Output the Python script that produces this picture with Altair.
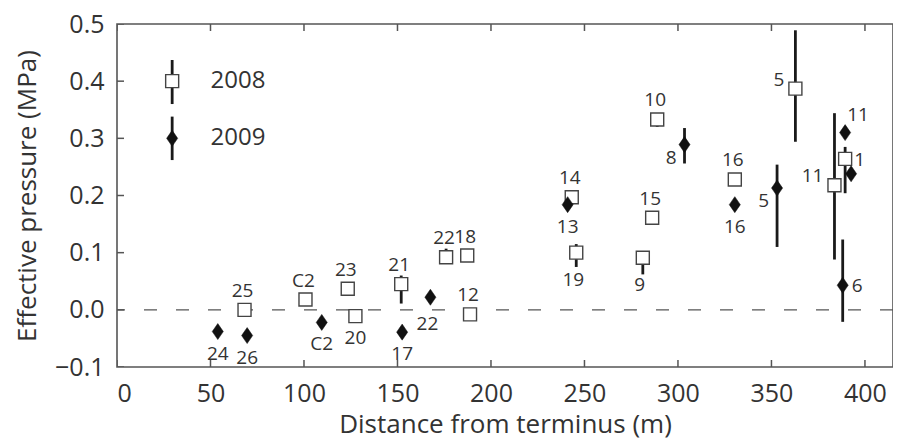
import altair as alt
import pandas as pd

# ---------------- data ----------------
# 2008 campaign (open squares)
labels_2008 = ["25", "C2", "23", "20", "21", "22", "18", "12", "14", "19", "15", "9", "10", "16", "5", "11", "1"]
dist_2008 = [68.2, 100.8, 123.4, 127.5, 152.0, 176.0, 187.3, 188.8, 243.2, 245.6, 286.2, 281.2, 288.9, 330.4, 362.8, 383.7, 389.4]
pe_2008 = [0.000, 0.018, 0.037, -0.011, 0.045, 0.092, 0.095, -0.008, 0.197, 0.100, 0.161, 0.091, 0.333, 0.228, 0.387, 0.218, 0.264]
lo_2008 = [0.000, 0.018, 0.037, -0.011, 0.011, 0.092, 0.095, -0.008, 0.197, 0.075, 0.161, 0.062, 0.320, 0.228, 0.294, 0.088, 0.204]
hi_2008 = [0.000, 0.018, 0.037, -0.011, 0.060, 0.107, 0.095, -0.008, 0.197, 0.115, 0.161, 0.100, 0.340, 0.228, 0.489, 0.344, 0.285]
side_2008 = ["above", "above", "above", "below", "above", "above", "above", "above", "above", "below2",
             "above", "below2", "above", "above", "left", "left", "right"]

# 2009 campaign (filled diamonds)
labels_2009 = ["24", "26", "C2", "17", "22", "13", "8", "16", "5", "11", "", "6"]
dist_2009 = [53.9, 69.6, 109.5, 152.5, 167.6, 241.0, 303.5, 330.4, 353.0, 389.4, 392.6, 388.1]
pe_2009 = [-0.038, -0.045, -0.022, -0.039, 0.022, 0.184, 0.289, 0.184, 0.213, 0.310, 0.238, 0.043]
lo_2009 = [-0.038, -0.045, -0.022, -0.039, 0.022, 0.184, 0.256, 0.184, 0.110, 0.310, 0.238, -0.021]
hi_2009 = [-0.038, -0.045, -0.022, -0.039, 0.022, 0.184, 0.318, 0.184, 0.254, 0.310, 0.238, 0.123]
side_2009 = ["below", "below", "below", "below", "below2", "below", "belowleft", "below",
             "belowleft", "aboveright", "right", "right"]

# legend entries (drawn inside the axes, as in the original)
legend_years = ["2008", "2009"]
legend_dist = [29.5, 29.5]
legend_pe = [0.400, 0.300]
legend_lo = [0.360, 0.262]
legend_hi = [0.437, 0.338]
legend_text_dist = [50.0, 50.0]

x_ticks = [0, 50, 100, 150, 200, 250, 300, 350, 400]
y_ticks = [-0.1, 0.0, 0.1, 0.2, 0.3, 0.4, 0.5]
zero_level = [0.0]

# ---------------- tables ----------------
d08 = pd.DataFrame({"label": labels_2008, "dist": dist_2008, "pe": pe_2008,
                    "lo": lo_2008, "hi": hi_2008, "side": side_2008})
d09 = pd.DataFrame({"label": labels_2009, "dist": dist_2009, "pe": pe_2009,
                    "lo": lo_2009, "hi": hi_2009, "side": side_2009})
dleg = pd.DataFrame({"year": legend_years, "dist": legend_dist, "pe": legend_pe,
                     "lo": legend_lo, "hi": legend_hi, "tdist": legend_text_dist})
dzero = pd.DataFrame({"pe": zero_level})
# tick positions along the plot edges (edges = ends of the axis ranges)
dytick = pd.DataFrame({"v": y_ticks, "edge": [x_ticks[0]] * len(y_ticks)})
dxtick = pd.DataFrame({"v": x_ticks, "ylow": [y_ticks[0]] * len(x_ticks), "yhigh": [y_ticks[-1]] * len(x_ticks)})

FONT = "Open Sans"
TXT = "#333333"
FRAME = "#555555"
W, H = 776, 343

xs = alt.Scale(domain=[0, 415], nice=False, zero=False)
ys = alt.Scale(domain=[-0.1, 0.5], nice=False, zero=False)

x_axis = alt.Axis(orient="bottom", values=x_ticks, ticks=False, domain=False, grid=False,
                  labelFont=FONT, labelFontSize=25, labelColor=TXT, labelPadding=26, labelBaseline="middle",
                  title="Distance from terminus (m)", titleFont=FONT, titleFontSize=26,
                  titleFontWeight="normal", titleColor=TXT, titleY=57, titleBaseline="middle")
y_axis = alt.Axis(orient="left", values=y_ticks, format=".1f", ticks=False, domain=False, grid=False,
                  labelFont=FONT, labelFontSize=25, labelColor=TXT, labelPadding=13,
                  title="Effective pressure (MPa)", titleFont=FONT, titleFontSize=26,
                  titleFontWeight="normal", titleColor=TXT,
                  titleX=-90, titleY=H / 2, titleAlign="center", titleBaseline="middle", titleAngle=270)

DIAMOND = "M0,-1.2L0.83,0L0,1.2L-0.83,0Z"


def X(field):
    return alt.X(field, type="quantitative", scale=xs, axis=None)


def Y(field):
    return alt.Y(field, type="quantitative", scale=ys, axis=None)


# inward ticks on left, bottom and top edges, as rules running from the edge into the plot
ytick = alt.Chart(dytick).mark_tick(orient="horizontal", size=14, thickness=1.5, color=FRAME,
                                    clip=True, opacity=1).encode(x=X("edge"), y=Y("v"))
xtick_b = alt.Chart(dxtick).mark_tick(orient="vertical", size=14, thickness=1.5, color=FRAME,
                                      clip=True, opacity=1).encode(x=X("v"), y=Y("ylow"))
xtick_t = alt.Chart(dxtick).mark_tick(orient="vertical", size=14, thickness=1.5, color=FRAME,
                                      clip=True, opacity=1).encode(x=X("v"), y=Y("yhigh"))

# zero line
zero = alt.Chart(dzero).mark_rule(color="#555555", strokeWidth=1.4, strokeDash=[13, 19]).encode(y=Y("pe"))

# error bars (first layer carries the axes)
err08 = alt.Chart(d08).mark_rule(color="#1a1a1a", strokeWidth=2.8).encode(
    x=alt.X("dist:Q", scale=xs, axis=x_axis),
    y=alt.Y("lo:Q", scale=ys, axis=y_axis),
    y2="hi:Q",
)
err09 = alt.Chart(d09).mark_rule(color="#1a1a1a", strokeWidth=2.8).encode(x=X("dist"), y=Y("lo"), y2="hi:Q")

# markers
sq08 = alt.Chart(d08).mark_point(shape="square", size=169, filled=True, fill="white",
                                 stroke="#444444", strokeWidth=1.4, opacity=1).encode(x=X("dist"), y=Y("pe"))
dia09 = alt.Chart(d09).mark_point(shape=DIAMOND, size=178, filled=True, fill="#111111",
                                  stroke="#111111", strokeWidth=0.5, opacity=1).encode(x=X("dist"), y=Y("pe"))

# point labels, placed by side
OFFS = {
    "above": (-2, -19, "center"),
    "below": (0, 22, "center"),
    "below2": (-3, 27, "center"),
    "left": (-11, -9, "right"),
    "right": (9, 1, "left"),
    "belowleft": (-8, 13, "right"),
    "aboveright": (2, -18, "left"),
}


def label_layers(df):
    out = []
    for side, (dx, dy, al) in OFFS.items():
        if side not in set(df["side"]):
            continue
        out.append(
            alt.Chart(df).transform_filter(alt.datum.side == side)
            .mark_text(font=FONT, fontSize=19, color=TXT, dx=dx, dy=dy, align=al, baseline="middle")
            .encode(x=X("dist"), y=Y("pe"), text="label:N")
        )
    return out


# legend
leg_err = alt.Chart(dleg).mark_rule(color="#1a1a1a", strokeWidth=2.8).encode(x=X("dist"), y=Y("lo"), y2="hi:Q")
leg_sq = alt.Chart(dleg).transform_filter(alt.datum.year == "2008").mark_point(
    shape="square", size=169, filled=True, fill="white", stroke="#444444", strokeWidth=1.4, opacity=1
).encode(x=X("dist"), y=Y("pe"))
leg_dia = alt.Chart(dleg).transform_filter(alt.datum.year == "2009").mark_point(
    shape=DIAMOND, size=178, filled=True, fill="#111111", stroke="#111111", strokeWidth=0.5, opacity=1
).encode(x=X("dist"), y=Y("pe"))
leg_txt = alt.Chart(dleg).mark_text(font=FONT, fontSize=24, color=TXT, align="left", baseline="middle").encode(
    x=X("tdist"), y=Y("pe"), text="year:N")

layers = [err08, err09, ytick, xtick_b, xtick_t, zero, sq08, dia09] + \
         label_layers(d08) + label_layers(d09) + [leg_err, leg_sq, leg_dia, leg_txt]

# the plot frame is the view outline
chart = alt.layer(*layers).resolve_axis(x="independent", y="independent").properties(
    width=W, height=H,
    background="white",
    autosize=alt.AutoSizeParams(type="none"),
    padding={"left": 109, "top": 16, "right": 0, "bottom": 74},
).configure_view(stroke=FRAME, strokeWidth=1.6)

chart.save("out.html", embed_options={"renderer": "svg", "actions": False})
